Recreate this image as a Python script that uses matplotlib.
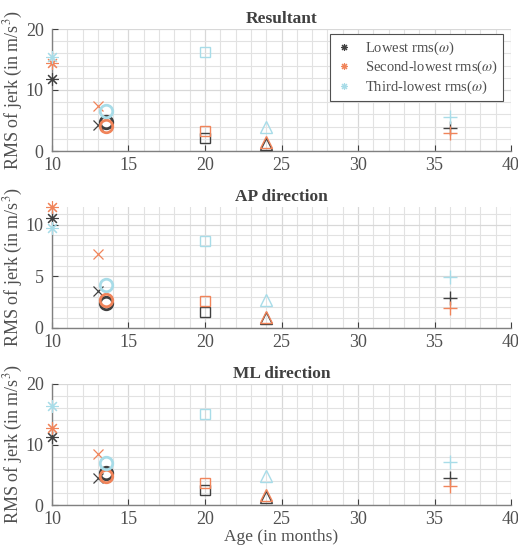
import numpy as np
import matplotlib.pyplot as plt
from matplotlib.ticker import MultipleLocator
from matplotlib.lines import Line2D

plt.rcParams['font.family'] = ['Liberation Serif', 'DejaVu Serif']
plt.rcParams['mathtext.fontset'] = 'stix'

ages = [10, 13, 13.5, 20, 24, 36]

# rms of jerk per age, three series per panel
res_low = [11.8, 4.3, 4.8, 2.1, 1.2, 3.8]
res_second = [14.4, 7.4, 4.15, 3.3, 1.5, 2.9]
res_third = [15.4, np.nan, 6.6, 16.2, 4.0, 5.6]

ap_low = [10.6, 3.55, 2.45, 1.5, 1.0, 2.9]
ap_second = [11.7, 7.2, 2.75, 2.6, 1.1, 1.9]
ap_third = [9.7, np.nan, 4.2, 8.4, 2.7, 4.9]

ml_low = [11.2, 4.5, 5.35, 2.5, 1.4, 4.4]
ml_second = [12.7, 8.4, 4.8, 3.7, 1.65, 3.2]
ml_third = [16.3, np.nan, 7.0, 15.0, 4.8, 7.1]

titles = ['Resultant', 'AP direction', 'ML direction']
series_names = [r'Lowest rms($\omega$)', r'Second-lowest rms($\omega$)', r'Third-lowest rms($\omega$)']

colors = ['#404040', '#f0845a', '#a8dce8']
ast = (8, 2, 0)
markers = [ast, 'x', 'o', 's', '^', '+']
msizes = [9, 7, 9, 6.5, 8, 10]
mwidths = [0.8, 0.9, 2.0, 1.0, 1.0, 1.0]

panels = [
    (res_low, res_second, res_third),
    (ap_low, ap_second, ap_third),
    (ml_low, ml_second, ml_third),
]
ylims = [(0, 20), (0, 11.7), (0, 20)]
yminor = [2, 1, 2]
yticks = [[0, 10, 20], [0, 5, 10], [0, 10, 20]]

fig = plt.figure(figsize=(5.18, 5.48), dpi=100)
W, H = 518, 548
tops = [29, 207, 384]
bots = [151, 328, 505]
left, right = 52, 511
text_c = '#404040'

axes = []
for i in range(3):
    ax = fig.add_axes([left / W, (H - bots[i]) / H, (right - left) / W, (bots[i] - tops[i]) / H])
    axes.append(ax)
    for s, vals in enumerate(panels[i]):
        for k, age in enumerate(ages):
            if np.isnan(vals[k]):
                continue
            ax.plot(age, vals[k], linestyle='none', marker=markers[k], ms=msizes[k],
                    mec=colors[s], mfc='none', mew=mwidths[k], clip_on=False, zorder=3)
    ax.set_xlim(10, 40)
    ax.set_ylim(*ylims[i])
    ax.set_xticks([10, 15, 20, 25, 30, 35, 40])
    ax.set_yticks(yticks[i])
    ax.xaxis.set_minor_locator(MultipleLocator(1))
    ax.yaxis.set_minor_locator(MultipleLocator(yminor[i]))
    ax.grid(True, which='major', color='#d8d8d8', lw=0.9)
    ax.grid(True, which='minor', color='#e2e2e2', lw=0.8)
    ax.set_axisbelow(True)
    for sp in ['top', 'right']:
        ax.spines[sp].set_visible(False)
    for sp in ['left', 'bottom']:
        ax.spines[sp].set_color('#808080')
        ax.spines[sp].set_linewidth(1.0)
    ax.tick_params(which='major', direction='in', length=4, color='#404040', labelsize=13,
                   labelcolor='#505050')
    ax.tick_params(axis='x', which='major', pad=4)
    ax.tick_params(axis='y', which='major', pad=6)
    ax.tick_params(which='minor', length=0)
    ax.set_title(titles[i], fontsize=12.5, fontweight='bold', color=text_c, pad=4)
    ax.set_ylabel(r'RMS of jerk (in m/s$^3$)', fontsize=13, color='#505050')
    ax.yaxis.set_label_coords(-0.058, 0.5)

axes[2].set_xlabel('Age (in months)', fontsize=12.5, color='#505050', labelpad=1)

handles = [Line2D([], [], linestyle='none', marker=ast, ms=5, mec=c, mew=0.8) for c in colors]
leg = axes[0].legend(handles, series_names, loc='upper right', bbox_to_anchor=(0.983, 0.955),
                     fontsize=10.5, frameon=True, fancybox=False, edgecolor='#505050',
                     framealpha=1, labelcolor='#505050', handlelength=1.3, handletextpad=0.8,
                     borderpad=0.35, labelspacing=0.15, borderaxespad=0)
leg.get_frame().set_linewidth(0.8)

fig.savefig('out.png', dpi=100)
